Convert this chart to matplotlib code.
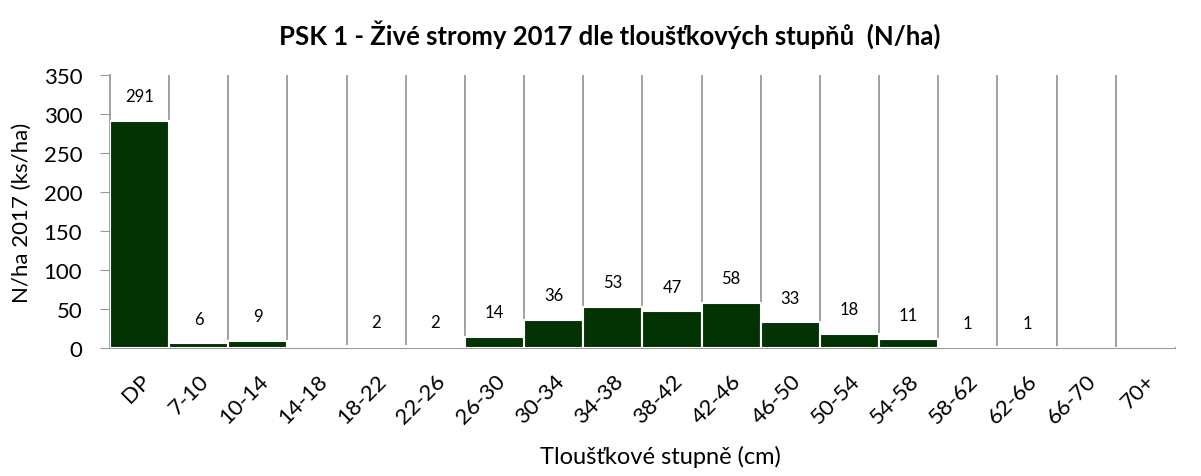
import matplotlib.pyplot as plt
import numpy as np

plt.rcParams['font.family'] = ['Lato', 'DejaVu Sans']

# tloušťkové stupně a hodnoty N/ha
kategorie = ['DP', '7-10', '10-14', '14-18', '18-22', '22-26', '26-30', '30-34',
             '34-38', '38-42', '42-46', '46-50', '50-54', '54-58', '58-62',
             '62-66', '66-70', '70+']
hodnoty = [291, 6, 9, 0, 2, 2, 14, 36, 53, 47, 58, 33, 18, 11, 1, 1, 0, 0]

barva = '#033303'
seda = '#9a9a9a'

fig = plt.figure(figsize=(12.01, 4.77), dpi=100)
ax = fig.add_axes([0.0916, 0.2683, 0.8866, 0.5724])

x = np.arange(len(kategorie))
ax.bar(x, hodnoty, width=1.0, color=barva, edgecolor='white', linewidth=1.5, zorder=3)

# svislé mřížky mezi kategoriemi
for k in range(len(kategorie) - 1):
    ax.axvline(k + 0.5, color=seda, linewidth=1.3, zorder=1)

for xi, v in zip(x, hodnoty):
    if v > 0:
        ax.annotate(str(v), (xi, v), xytext=(0, 12), textcoords='offset points',
                    ha='center', va='bottom', fontsize=12, color='black')

ax.set_xlim(-0.5, len(kategorie) - 0.5)
ax.set_ylim(0, 350)
ax.set_yticks(range(0, 351, 50))
ax.set_xticks(x)
ax.set_xticklabels(kategorie, rotation=45, ha='right', rotation_mode='anchor', fontsize=16)
ax.tick_params(axis='x', length=0, pad=16)
ax.tick_params(axis='y', length=7, color=seda, labelsize=16, pad=13)

for s in ['top', 'right']:
    ax.spines[s].set_visible(False)
ax.spines['left'].set_color(seda)
ax.spines['bottom'].set_color(seda)
ax.spines['left'].set_linewidth(1.3)
ax.spines['bottom'].set_linewidth(1.5)

ax.set_ylabel('N/ha 2017 (ks/ha)', fontsize=16)
ax.yaxis.set_label_coords(-0.073, 0.5)
fig.text(0.55, 0.042, 'Tloušťkové stupně (cm)', ha='center', va='center', fontsize=17)
fig.text(0.508, 0.927, 'PSK 1 - Živé stromy 2017 dle tloušťkových stupňů  (N/ha)',
         ha='center', va='center', fontsize=18.5, fontweight='bold')

fig.savefig('out.png', dpi=100)
